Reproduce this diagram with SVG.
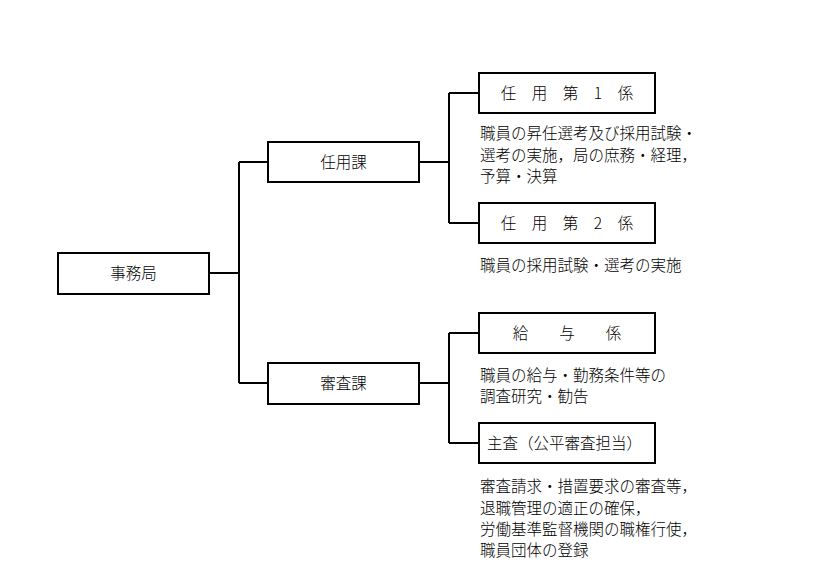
<svg xmlns="http://www.w3.org/2000/svg" width="824" height="588" viewBox="0 0 824 588">
<style>
rect{fill:#fff;stroke:#000;stroke-width:2}
text{font-family:"Noto Sans CJK JP","Noto Sans CJK SC",sans-serif;font-size:15.5px;font-weight:300;fill:#000}
.c{text-anchor:middle}
#conn path{fill:none;stroke:#000;stroke-width:2}
</style>
<rect x="0" y="0" width="824" height="588" style="stroke:none"/>
<g id="conn">
<path d="M209 273H239M239 162V383M239 162H268M239 383H268"/>
<path d="M419 162H449M449 93V223M449 93H479M449 223H479"/>
<path d="M419 383H449M449 333V443M449 333H479M449 443H479"/>
</g>
<g id="jimukyoku"><rect x="58" y="253" width="151" height="41"/><text class="c" x="133.5" y="279">事務局</text></g>
<g id="ninyouka"><rect x="268" y="142" width="151" height="40"/><text class="c" x="343.5" y="168">任用課</text></g>
<g id="shinsaka"><rect x="268" y="363" width="151" height="41"/><text class="c" x="343.5" y="389">審査課</text></g>
<g id="ninyou1"><rect x="479" y="73" width="176" height="40"/><text class="c" x="567" y="99">任　用　第　1　係</text>
<text x="480" y="139">職員の昇任選考及び採用試験・</text><text x="480" y="161">選考の実施，局の庶務・経理，</text><text x="480" y="182">予算・決算</text></g>
<g id="ninyou2"><rect x="479" y="203" width="176" height="40"/><text class="c" x="567" y="229">任　用　第　2　係</text>
<text x="480" y="271">職員の採用試験・選考の実施</text></g>
<g id="kyuyo"><rect x="479" y="313" width="176" height="40"/><text class="c" x="567" y="339">給　　与　　係</text>
<text x="480" y="381">職員の給与・勤務条件等の</text><text x="480" y="402">調査研究・勧告</text></g>
<g id="shusa"><rect x="479" y="423" width="176" height="40"/><text x="487" y="449">主査（公平審査担当）</text>
<text x="480" y="492">審査請求・措置要求の審査等，</text><text x="480" y="514">退職管理の適正の確保，</text><text x="480" y="535">労働基準監督機関の職権行使，</text><text x="480" y="556">職員団体の登録</text></g>
</svg>
